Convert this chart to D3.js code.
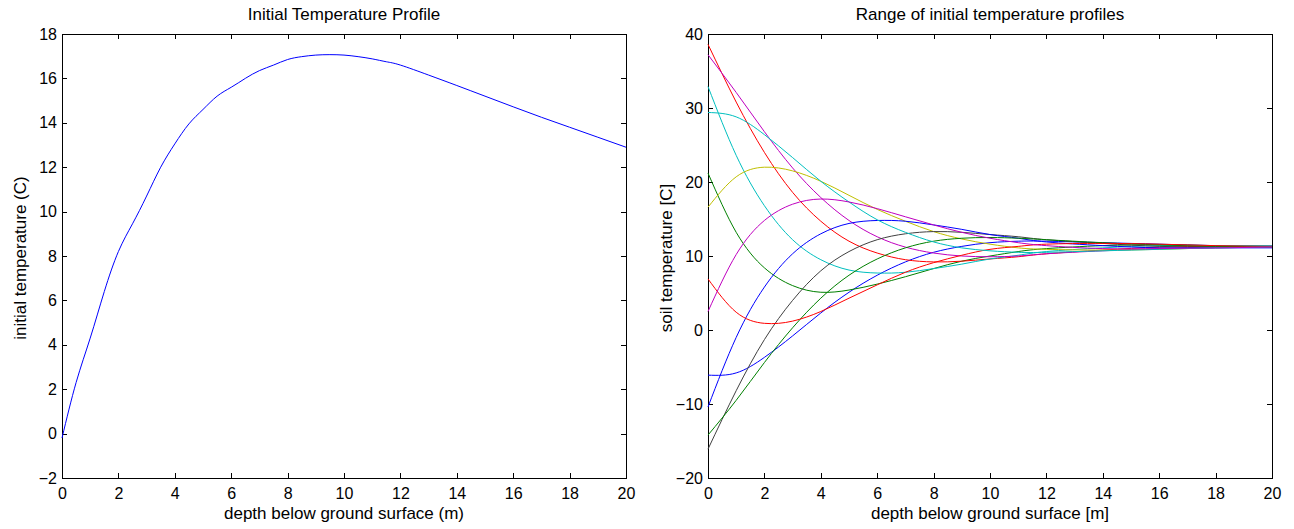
<!DOCTYPE html>
<html>
<head>
<meta charset="utf-8">
<script src="https://cdn.jsdelivr.net/npm/d3@7/dist/d3.min.js"></script>
<style>
body { margin: 0; background: #fff; }
text { font-family: "Liberation Sans", Arial, sans-serif; fill: #000; }
.axis path, .axis line { stroke: #000; shape-rendering: crispEdges; }
.curve { fill: none; stroke-width: 1; }
</style>
</head>
<body>
<svg></svg>
<script>
// left panel: one profile
const depthA = [0, 0.5, 1, 1.5, 2, 2.5, 3, 3.5, 4, 4.5, 5, 5.5, 6, 6.5, 7, 7.5, 8, 8.5, 9, 9.5, 10, 10.5, 11, 11.5, 12, 13, 14, 15, 16, 17, 18, 19, 20];
const initTemp = [-0.2, 2.3, 4.3, 6.4, 8.2, 9.45, 10.7, 12.0, 13.05, 13.95, 14.6, 15.2, 15.6, 16.0, 16.35, 16.6, 16.85, 16.98, 17.05, 17.07, 17.05, 16.98, 16.88, 16.75, 16.6, 16.15, 15.68, 15.2, 14.72, 14.25, 13.8, 13.35, 12.9];

// right panel: profiles over the year
const depthB = [0, 1, 2, 3, 4, 5, 6, 7, 8, 9, 10, 11, 12, 14, 16, 18, 20];
const profBlue1 = [-6.1, -5.8, -3.7, -0.8, 2.3, 5.1, 7.4, 9.2, 10.5, 11.3, 11.8, 12.0, 12.0, 11.8, 11.6, 11.4, 11.3];
const profGreen1 = [21.2, 13.2, 8.4, 6.0, 5.1, 5.4, 6.2, 7.2, 8.3, 9.3, 10.0, 10.6, 11.0, 11.4, 11.5, 11.4, 11.3];
const profRed1 = [38.6, 30.8, 24.0, 18.6, 14.7, 12.0, 10.4, 9.5, 9.2, 9.3, 9.6, 9.9, 10.3, 10.8, 11.2, 11.3, 11.3];
const profCyan1 = [32.9, 23.6, 16.8, 12.2, 9.5, 8.1, 7.7, 7.8, 8.3, 8.9, 9.6, 10.1, 10.6, 11.1, 11.4, 11.4, 11.4];
const profMagenta1 = [37.2, 32.1, 26.8, 21.9, 17.9, 14.8, 12.6, 11.2, 10.4, 10.0, 9.9, 10.0, 10.3, 10.7, 11.0, 11.2, 11.3];
const profYellow = [16.6, 20.7, 22.0, 21.5, 20.1, 18.2, 16.3, 14.7, 13.3, 12.3, 11.6, 11.1, 10.9, 10.8, 10.9, 11.1, 11.2];
const profBlack = [-16.1, -8.2, -1.3, 4.0, 8.0, 10.6, 12.2, 13.0, 13.3, 13.2, 12.9, 12.6, 12.2, 11.7, 11.3, 11.2, 11.2];
const profBlue2 = [-10.4, -1.0, 5.8, 10.3, 13.0, 14.4, 14.8, 14.7, 14.2, 13.6, 12.9, 12.4, 11.9, 11.4, 11.1, 11.1, 11.1];
const profGreen2 = [-14.2, -9.5, -4.4, 0.3, 4.3, 7.4, 9.6, 11.1, 12.0, 12.4, 12.5, 12.4, 12.2, 11.8, 11.5, 11.3, 11.2];
const profRed2 = [6.9, 2.4, 0.9, 1.2, 2.5, 4.3, 6.1, 7.8, 9.1, 10.1, 10.9, 11.3, 11.6, 11.7, 11.6, 11.4, 11.3];
const profCyan2 = [29.4, 28.8, 26.4, 23.3, 20.1, 17.3, 14.9, 13.2, 11.9, 11.1, 10.7, 10.5, 10.5, 10.7, 10.9, 11.1, 11.2];
const profMagenta2 = [2.5, 10.2, 14.8, 17.0, 17.7, 17.3, 16.4, 15.3, 14.2, 13.2, 12.4, 11.8, 11.4, 11.0, 11.0, 11.1, 11.2];

const profiles = [profBlue1, profGreen1, profRed1, profCyan1, profMagenta1, profYellow, profBlack,
                  profBlue2, profGreen2, profRed2, profCyan2, profMagenta2];
const profileColors = ["#0000ff", "#008000", "#ff0000", "#00bfbf", "#bf00bf", "#bfbf00", "#404040",
                       "#0000ff", "#008000", "#ff0000", "#00bfbf", "#bf00bf"];

const width = 1294, height = 529;
const svg = d3.select("svg").attr("width", width).attr("height", height);

function panel(opts) {
  const x = d3.scaleLinear().domain([0, 20]).range([opts.left, opts.right]);
  const y = d3.scaleLinear().domain(opts.yDomain).range([478, 34]);
  const g = svg.append("g");

  g.append("g").attr("class", "axis")
    .attr("transform", "translate(0,478)")
    .call(d3.axisBottom(x).ticks(10).tickSize(-5).tickSizeOuter(0).tickPadding(10))
    .call(a => a.selectAll("text").style("font-size", "16px"));
  g.append("g").attr("class", "axis")
    .attr("transform", "translate(0,34)")
    .call(d3.axisTop(x).ticks(10).tickSize(-5).tickSizeOuter(0).tickFormat(""));
  g.append("g").attr("class", "axis")
    .attr("transform", `translate(${opts.left},0)`)
    .call(d3.axisLeft(y).tickValues(opts.yTicks).tickSize(-5).tickSizeOuter(0).tickPadding(5)
      .tickFormat(d => d < 0 ? "\u2212" + Math.abs(d) : d))
    .call(a => a.selectAll("text").style("font-size", "16px"));
  g.append("g").attr("class", "axis")
    .attr("transform", `translate(${opts.right},0)`)
    .call(d3.axisRight(y).tickValues(opts.yTicks).tickSize(-5).tickSizeOuter(0).tickFormat(""));
  g.selectAll(".axis text").attr("fill", "#000");

  g.append("text").attr("x", (opts.left + opts.right) / 2).attr("y", 20)
    .attr("text-anchor", "middle").style("font-size", "17px").text(opts.title);
  g.append("text").attr("x", (opts.left + opts.right) / 2).attr("y", 519)
    .attr("text-anchor", "middle").style("font-size", "17px").text(opts.xLabel);
  g.append("text").attr("transform", `translate(${opts.left - 36},258) rotate(-90)`)
    .attr("text-anchor", "middle").style("font-size", "17px").text(opts.yLabel);

  return { x, y, g };
}

const left = panel({
  left: 62, right: 626, yDomain: [-2, 18], yTicks: d3.range(-2, 19, 2),
  title: "Initial Temperature Profile",
  xLabel: "depth below ground surface (m)",
  yLabel: "initial temperature (C)"
});

const right = panel({
  left: 708, right: 1272, yDomain: [-20, 40], yTicks: d3.range(-20, 41, 10),
  title: "Range of initial temperature profiles",
  xLabel: "depth below ground surface [m]",
  yLabel: "soil temperature [C]"
});

const lineA = d3.line()
  .x((d, i) => left.x(depthA[i]))
  .y(d => left.y(d))
  .curve(d3.curveNatural);

left.g.append("path").attr("class", "curve")
  .attr("d", lineA(initTemp))
  .attr("stroke", "#0000ff");

const lineB = d3.line()
  .x((d, i) => right.x(depthB[i]))
  .y(d => right.y(d))
  .curve(d3.curveNatural);

right.g.selectAll("path.curve")
  .data(profiles)
  .enter()
  .append("path")
  .attr("class", "curve")
  .attr("d", d => lineB(d))
  .attr("stroke", (d, i) => profileColors[i]);
</script>
</body>
</html>
